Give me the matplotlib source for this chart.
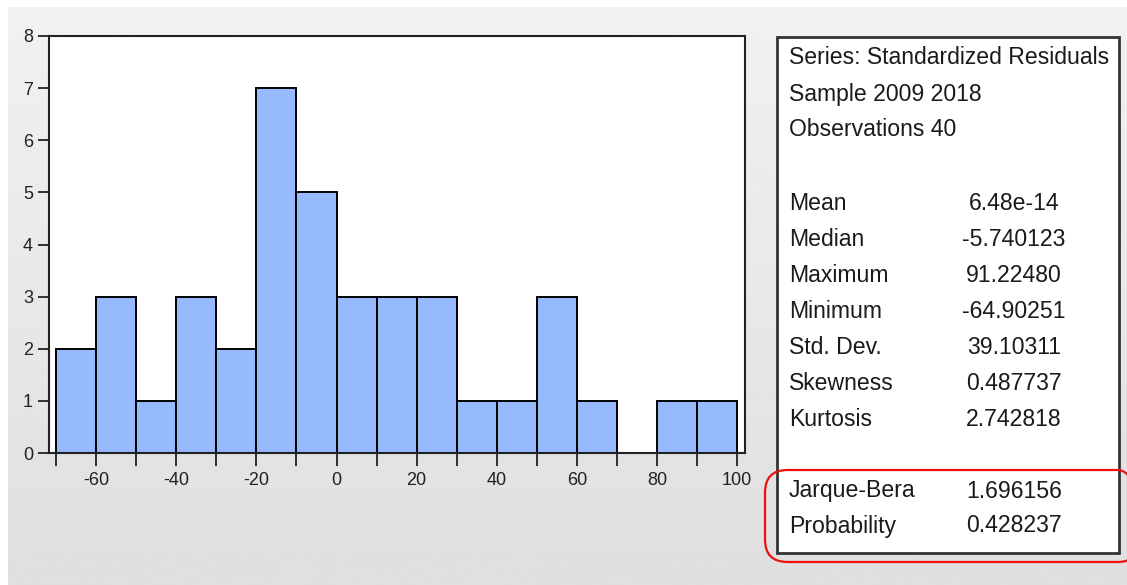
import numpy as np
import matplotlib
matplotlib.use("Agg")
import matplotlib.pyplot as plt
from matplotlib.patches import Rectangle, FancyBboxPatch

plt.rcParams['font.family'] = ['Liberation Sans', 'DejaVu Sans']
plt.rcParams['axes.unicode_minus'] = False

# histogram of residuals: bins of width 10 from -70 to 100
bin_edges = np.arange(-70, 101, 10)
counts = [2, 3, 1, 3, 2, 7, 5, 3, 3, 3, 1, 1, 3, 1, 0, 1, 1]

x_ticks = [-60, -40, -20, 0, 20, 40, 60, 80, 100]
y_ticks = [0, 1, 2, 3, 4, 5, 6, 7, 8]

header_lines = ["Series: Standardized Residuals", "Sample 2009 2018", "Observations 40"]
stat_names = ["Mean", "Median", "Maximum", "Minimum", "Std. Dev.", "Skewness", "Kurtosis"]
stat_values = ["6.48e-14", "-5.740123", "91.22480", "-64.90251", "39.10311", "0.487737", "2.742818"]
test_names = ["Jarque-Bera", "Probability"]
test_values = ["1.696156", "0.428237"]

W, H = 1127, 585
fig = plt.figure(figsize=(W / 100, H / 100), dpi=100)
fig.patch.set_facecolor("white")

def fx(px):
    return px / W

def fy(py):
    return 1 - py / H

# grey gradient background
bg = fig.add_axes([fx(8), 0, 1 - fx(8), fy(7)])
grad = np.linspace(0.945, 0.875, 256).reshape(-1, 1)
bg.imshow(grad, aspect="auto", cmap="gray", vmin=0, vmax=1, extent=[0, 1, 0, 1])
bg.axis("off")

# histogram
ax = fig.add_axes([fx(49), fy(453), fx(745 - 49), (453 - 36) / H])
ax.bar(bin_edges[:-1], counts, width=10, align="edge", color="#97BAFF",
       edgecolor="black", linewidth=1.4)
ax.set_xlim(-71.8, 102)
ax.set_ylim(0, 8)
ax.set_xticks(x_ticks)
ax.set_xticks(np.arange(-70, 101, 10), minor=True)
ax.set_yticks(y_ticks)
ax.tick_params(axis="both", direction="out", length=8, width=1.3, labelsize=13,
               color="#222222", labelcolor="#222222")
ax.tick_params(axis="x", which="minor", direction="out", length=9, width=1.3, color="#222222")
ax.tick_params(axis="x", which="major", length=9, pad=5)
for s in ax.spines.values():
    s.set_linewidth(1.5)
    s.set_color("#222222")

# statistics box
fig.patches.append(Rectangle((fx(777), fy(553)), fx(1119 - 777), (553 - 37) / H,
                             transform=fig.transFigure, facecolor="white",
                             edgecolor="#333333", linewidth=2, zorder=2))

fs = 16.6
tc = "#1a1a1a"
ypos = 58
for line in header_lines:
    fig.text(fx(789), fy(ypos), line, fontsize=fs, va="center", ha="left", color=tc, zorder=3)
    ypos += 36
ypos = 203
for name, val in zip(stat_names, stat_values):
    fig.text(fx(789), fy(ypos), name, fontsize=fs, va="center", ha="left", color=tc, zorder=3)
    fig.text(fx(1014), fy(ypos), val, fontsize=fs, va="center", ha="center", color=tc, zorder=3)
    ypos += 36
ypos = 491
for name, val in zip(test_names, test_values):
    fig.text(fx(789), fy(ypos), name, fontsize=fs, va="center", ha="left", color=tc, zorder=3)
    fig.text(fx(1014), fy(ypos), val, fontsize=fs, va="center", ha="center", color=tc, zorder=3)
    ypos += 35

# red highlight around the test statistics
fig.patches.append(FancyBboxPatch((fx(765), fy(562)), fx(1140 - 765), (562 - 470) / H,
                                  boxstyle="round,pad=0.0,rounding_size=0.02",
                                  mutation_aspect=W / H,
                                  transform=fig.transFigure, facecolor="none",
                                  edgecolor="#ee1111", linewidth=1.6, zorder=4))

fig.savefig("out.png", dpi=100)
